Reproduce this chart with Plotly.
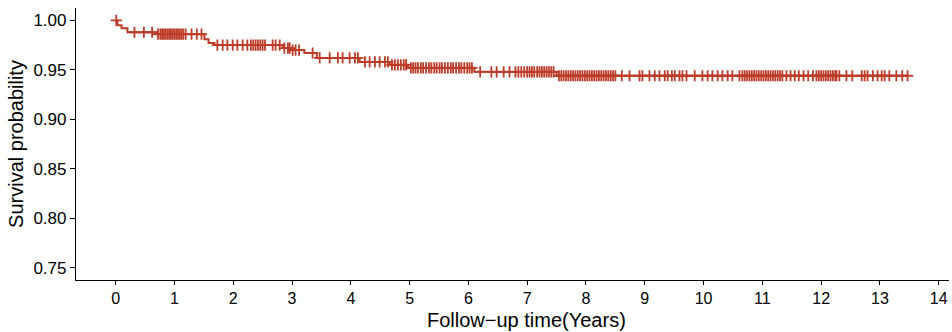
import numpy as np
import plotly.graph_objects as go

# Kaplan-Meier steps: event times and survival after each event
event_times = [0.03, 0.10, 0.20, 0.68, 1.51, 1.58, 1.68, 2.84, 2.99, 3.21, 3.42,
               4.15, 4.66, 4.97, 6.10, 7.50]
surv_after = [0.995, 0.992, 0.988, 0.986, 0.981, 0.977, 0.975, 0.972, 0.970, 0.967,
              0.962, 0.958, 0.955, 0.952, 0.948, 0.944]

# Censoring times (years)
censor_times = [
    0.01,
    0.32, 0.48, 0.62,
    0.72, 0.76, 0.79, 0.82, 0.85, 0.88, 0.91, 0.94, 0.97, 1.00, 1.03, 1.06, 1.09,
    1.12, 1.15, 1.19, 1.29, 1.38, 1.46,
    1.73, 1.82, 1.90, 1.99, 2.07, 2.16, 2.24, 2.30, 2.34, 2.38, 2.42, 2.46, 2.50,
    2.54, 2.67, 2.72, 2.79,
    2.87, 2.93, 2.96, 3.01, 3.06, 3.12, 3.35,
    3.47, 3.64, 3.78, 3.86, 3.98, 4.07, 4.12,
    4.24, 4.32, 4.41, 4.49, 4.58, 4.63,
    4.70, 4.75, 4.80, 4.85, 4.90, 4.94,
    5.02, 5.06, 5.10, 5.14, 5.19, 5.23, 5.28, 5.33, 5.37, 5.42, 5.46, 5.51, 5.55,
    5.60, 5.65, 5.70, 5.74, 5.79, 5.84, 5.88, 5.93, 5.98, 6.02, 6.06,
    6.20, 6.39, 6.48, 6.60, 6.70, 6.80, 6.85, 6.90, 6.95, 7.00, 7.04, 7.08, 7.12,
    7.17, 7.21, 7.25, 7.29, 7.33, 7.37, 7.41, 7.45,
    7.54, 7.58, 7.62, 7.66, 7.70, 7.74, 7.78, 7.82, 7.86, 7.90, 7.94, 7.98, 8.02,
    8.06, 8.10, 8.14, 8.18, 8.22, 8.26, 8.30, 8.34, 8.38, 8.42, 8.46, 8.50,
    8.61, 8.74, 8.91, 8.96, 9.08, 9.17, 9.25, 9.34, 9.39, 9.46, 9.51, 9.59, 9.64,
    9.71, 9.85, 9.98, 10.07, 10.15, 10.24, 10.32, 10.41, 10.49, 10.61,
    10.66, 10.70, 10.74, 10.78, 10.82, 10.86, 10.90, 10.94, 10.98, 11.02, 11.06,
    11.10, 11.14, 11.18, 11.22, 11.26, 11.30, 11.34,
    11.41, 11.48, 11.55, 11.62, 11.70, 11.78, 11.86, 11.92,
    11.96, 12.00, 12.04, 12.08, 12.12, 12.16, 12.20, 12.24, 12.26,
    12.31, 12.43, 12.53, 12.69, 12.74, 12.79, 12.88, 12.96, 13.03, 13.08, 13.16,
    13.28, 13.38, 13.47,
]

x_ticks = list(range(0, 15))
y_ticks = [0.75, 0.80, 0.85, 0.90, 0.95, 1.00]
x_title = "Follow\u2212up time(Years)"
y_title = "Survival probability"

COLOR = "#BC3C29"

# Step curve
et = np.array(event_times)
sv = np.array(surv_after)
end_time = max(censor_times)
curve_x = [0.0] + list(et) + [end_time]
curve_y = [1.0] + list(sv) + [sv[-1]]

# Survival at censor times via step lookup
ct = np.array(censor_times)
idx = np.searchsorted(et, ct, side="right")
cens_y = np.where(idx == 0, 1.0, sv[np.maximum(idx - 1, 0)])

fig = go.Figure()
fig.add_trace(go.Scatter(
    x=curve_x, y=curve_y, mode="lines", line=dict(shape="hv", color=COLOR, width=2),
    hoverinfo="skip", showlegend=False,
))
fig.add_trace(go.Scatter(
    x=ct, y=cens_y, mode="markers",
    marker=dict(symbol="cross-thin", size=8, line=dict(color=COLOR, width=1.8)),
    showlegend=False,
))

font_family = "Liberation Sans, Arial, sans-serif"
fig.update_layout(
    width=952, height=332,
    margin=dict(l=76, r=3, t=8, b=52),
    paper_bgcolor="white", plot_bgcolor="white",
    font=dict(family=font_family, color="black"),
    xaxis=dict(
        range=[-0.675, 14.175], tickvals=x_ticks, ticktext=[str(v) for v in x_ticks],
        showgrid=False, zeroline=False, showline=True, linecolor="black", linewidth=1.2,
        ticks="outside", ticklen=4, tickwidth=1.1, tickcolor="black",
        tickfont=dict(size=16, color="black"),
        automargin=False,
    ),
    yaxis=dict(
        range=[0.7375, 1.0125], tickvals=y_ticks, ticktext=[f"{v:.2f}" for v in y_ticks],
        showgrid=False, zeroline=False, showline=True, linecolor="black", linewidth=1.2,
        ticks="outside", ticklen=5, tickwidth=1.1, tickcolor="black",
        tickfont=dict(size=17, color="black"),
        title=dict(text=y_title, font=dict(size=20), standoff=4),
        automargin=False,
    ),
    annotations=[dict(
        text=x_title, xref="paper", yref="paper", x=0.5166, y=-0.148,
        xanchor="center", yanchor="middle", showarrow=False,
        font=dict(size=20, color="black", family=font_family),
    )],
)

fig.write_html("out.html", config={"displayModeBar": False},
               post_script="document.body.style.margin='0';")
